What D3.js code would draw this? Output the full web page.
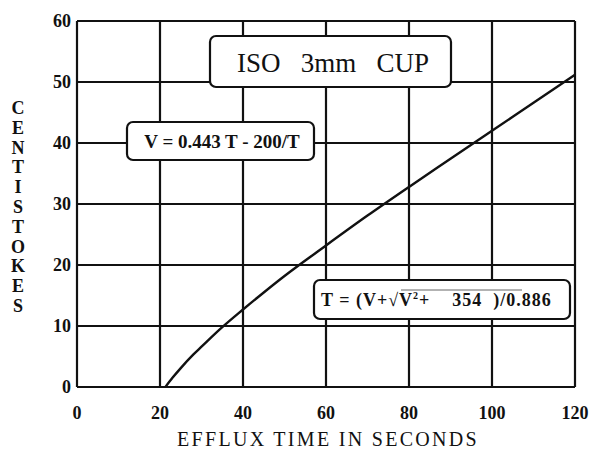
<!DOCTYPE html>
<html>
<head>
<meta charset="utf-8">
<script src="https://cdn.jsdelivr.net/npm/d3@7"></script>
<style>
  body { margin: 0; background: #fff; }
  text { font-family: "Liberation Serif", "DejaVu Serif", serif; fill: #111; }
</style>
</head>
<body>
<div id="chart"></div>
<script>
const width = 597;
const height = 449;

// efflux time (s) and viscosity (cSt)
const effluxTime = [21.3, 23, 25, 28, 30, 35, 40, 45, 50, 60, 70, 80, 90, 100, 110, 120];
const centistokes = [0, 1.5, 3.1, 5.3, 6.6, 9.8, 12.7, 15.5, 18.2, 23.2, 28.1, 32.8, 37.4, 42.0, 46.6, 51.2];
const xTicks = [0, 20, 40, 60, 80, 100, 120];
const yTicks = [0, 10, 20, 30, 40, 50, 60];
const yTitle = 'CENTISTOKES';
const xTitle = 'EFFLUX TIME IN SECONDS';

const margin = { left: 77, right: 22, top: 21, bottom: 62 };

const x = d3.scaleLinear()
  .domain([0, 120])
  .range([margin.left, width - margin.right]);

const y = d3.scaleLinear()
  .domain([0, 60])
  .range([height - margin.bottom, margin.top]);

const svg = d3.select('#chart').append('svg')
  .attr('width', width)
  .attr('height', height);

// grid
svg.append('g')
  .selectAll('line')
  .data(xTicks)
  .enter()
  .append('line')
  .attr('x1', d => x(d))
  .attr('x2', d => x(d))
  .attr('y1', y(0))
  .attr('y2', y(60))
  .attr('stroke', '#111')
  .attr('stroke-width', 2.2);

svg.append('g')
  .selectAll('line')
  .data(yTicks)
  .enter()
  .append('line')
  .attr('x1', x(0))
  .attr('x2', x(120))
  .attr('y1', d => y(d))
  .attr('y2', d => y(d))
  .attr('stroke', '#111')
  .attr('stroke-width', 2.2);

// tick labels
svg.append('g')
  .selectAll('text')
  .data(yTicks)
  .enter()
  .append('text')
  .attr('x', x(0) - 6)
  .attr('y', d => y(d) + 6)
  .attr('text-anchor', 'end')
  .attr('font-size', 18)
  .attr('font-weight', 'bold')
  .text(d => d);

svg.append('g')
  .selectAll('text')
  .data(xTicks)
  .enter()
  .append('text')
  .attr('x', d => x(d))
  .attr('y', y(0) + 32)
  .attr('text-anchor', 'middle')
  .attr('font-size', 18)
  .attr('font-weight', 'bold')
  .text(d => d);

// axis titles
svg.append('text')
  .attr('x', 328)
  .attr('y', 446)
  .attr('text-anchor', 'middle')
  .attr('font-size', 20)
  .attr('letter-spacing', 2.3)
  .text(xTitle);

svg.append('g')
  .selectAll('text')
  .data(yTitle.split(''))
  .enter()
  .append('text')
  .attr('x', 18)
  .attr('y', (d, i) => 114 + i * 19.8)
  .attr('text-anchor', 'middle')
  .attr('font-size', 18)
  .attr('font-weight', 'bold')
  .text(d => d);

// curve
const line = d3.line()
  .x(d => x(d[0]))
  .y(d => y(d[1]))
  .curve(d3.curveMonotoneX);

svg.append('path')
  .datum(effluxTime.map((t, i) => [t, centistokes[i]]))
  .attr('d', line)
  .attr('fill', 'none')
  .attr('stroke', '#111')
  .attr('stroke-width', 2.4);

// boxes
const box = (bx, by, bw, bh) => svg.append('rect')
  .attr('x', bx).attr('y', by)
  .attr('width', bw).attr('height', bh)
  .attr('rx', 6)
  .attr('fill', '#fff')
  .attr('stroke', '#111')
  .attr('stroke-width', 2.2);

box(210, 36, 241, 51);
svg.append('text')
  .attr('x', 333)
  .attr('y', 72)
  .attr('text-anchor', 'middle')
  .attr('font-size', 27)
  .attr('xml:space', 'preserve')
  .text('ISO   3mm   CUP');

box(127, 122, 187, 38);
svg.append('text')
  .attr('x', 222)
  .attr('y', 148)
  .attr('text-anchor', 'middle')
  .attr('font-size', 19)
  .attr('font-weight', 'bold')
  .text('V = 0.443 T - 200/T');

box(314, 280, 256, 39);
const f = svg.append('text')
  .attr('x', 321)
  .attr('y', 306)
  .attr('font-size', 18)
  .attr('font-weight', 'bold')
  .attr('letter-spacing', 1)
  .attr('xml:space', 'preserve');
f.append('tspan').text('T = (V+');
f.append('tspan').attr('font-weight', 'normal').text('√');
f.append('tspan').text('V');
f.append('tspan').attr('dy', -7).attr('font-size', 10).text('2');
f.append('tspan').attr('dy', 7).text('+    354  )/0.886');
svg.append('line')
  .attr('x1', 401).attr('x2', 522)
  .attr('y1', 290).attr('y2', 290)
  .attr('stroke', '#666')
  .attr('stroke-width', 1);
</script>
</body>
</html>
